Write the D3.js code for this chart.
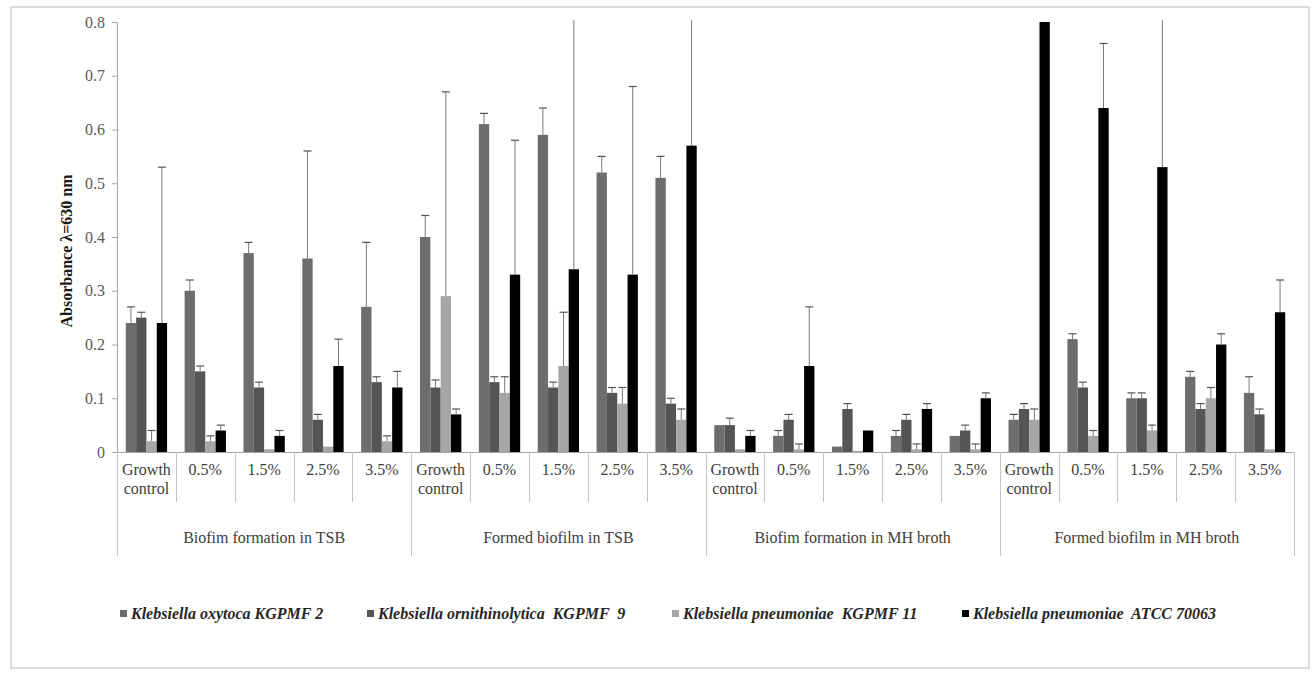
<!DOCTYPE html>
<html>
<head>
<meta charset="utf-8">
<script src="https://cdn.jsdelivr.net/npm/d3@7"></script>
<style>
  html, body { margin: 0; padding: 0; background: #fff; }
  svg { display: block; }
</style>
</head>
<body>
<svg id="chart" width="1314" height="674" font-family="'Liberation Serif', 'Times New Roman', serif"></svg>
<script>
// ---------------- DATA ----------------
const groups = ["Biofim formation in TSB", "Formed biofilm in TSB", "Biofim formation in MH broth", "Formed biofilm in MH broth"];
const categories = ["Growth control", "0.5%", "1.5%", "2.5%", "3.5%"];
const seriesNames = [
  "Klebsiella oxytoca KGPMF 2",
  "Klebsiella ornithinolytica  KGPMF  9",
  "Klebsiella pneumoniae  KGPMF 11",
  "Klebsiella pneumoniae  ATCC 70063"
];
const yTicks = [0, 0.1, 0.2, 0.3, 0.4, 0.5, 0.6, 0.7, 0.8];

// values, 20 per series (group by group, category by category)
const oxytoca      = [0.24, 0.30, 0.37, 0.36, 0.27,  0.40, 0.61, 0.59, 0.52, 0.51,  0.05, 0.03, 0.01, 0.03, 0.03,  0.06, 0.21, 0.10, 0.14, 0.11];
const ornithino    = [0.25, 0.15, 0.12, 0.06, 0.13,  0.12, 0.13, 0.12, 0.11, 0.09,  0.05, 0.06, 0.08, 0.06, 0.04,  0.08, 0.12, 0.10, 0.08, 0.07];
const pneumo11     = [0.02, 0.02, 0.005, 0.01, 0.02, 0.29, 0.11, 0.16, 0.09, 0.06,  0.005, 0.005, 0.002, 0.005, 0.005, 0.06, 0.03, 0.04, 0.10, 0.005];
const pneumoATCC   = [0.24, 0.04, 0.03, 0.16, 0.12,  0.07, 0.33, 0.34, 0.33, 0.57,  0.03, 0.16, 0.04, 0.08, 0.10,  0.80, 0.64, 0.53, 0.20, 0.26];

// upper error amounts
const oxytocaErr    = [0.03, 0.02, 0.02, 0.20, 0.12,  0.04, 0.02, 0.05, 0.03, 0.04,  0, 0.01, 0, 0.01, 0,  0.01, 0.01, 0.01, 0.01, 0.03];
const ornithinoErr  = [0.01, 0.01, 0.01, 0.01, 0.01,  0.014, 0.01, 0.01, 0.01, 0.01,  0.013, 0.01, 0.01, 0.01, 0.01,  0.01, 0.01, 0.01, 0.01, 0.01];
const pneumo11Err   = [0.02, 0.01, 0, 0, 0.01,  0.38, 0.03, 0.10, 0.03, 0.02,  0, 0.01, 0, 0.01, 0.01,  0.02, 0.01, 0.01, 0.02, 0];
const pneumoATCCErr = [0.29, 0.01, 0.01, 0.05, 0.03,  0.01, 0.25, 0.60, 0.35, 0.50,  0.01, 0.11, 0, 0.01, 0.01,  0, 0.12, 0.50, 0.02, 0.06];

const seriesValues = [oxytoca, ornithino, pneumo11, pneumoATCC];
const seriesErrors = [oxytocaErr, ornithinoErr, pneumo11Err, pneumoATCCErr];
const seriesColors = ["#6f6c6f", "#565556", "#a6a6a6", "#000000"];

// ---------------- LAYOUT ----------------
const FONT = "'Liberation Serif', 'Times New Roman', serif";
const svg = d3.select("#chart");
const plot = { left: 117, right: 1294, top: 22, bottom: 452 };

// outer frame
svg.append("rect")
  .attr("x", 11).attr("y", 7).attr("width", 1298).attr("height", 661)
  .attr("fill", "none").attr("stroke", "#d0d0d0").attr("stroke-width", 1.5);

const catIds = [];
groups.forEach((g, gi) => categories.forEach((c, ci) => catIds.push(gi + "|" + ci)));

const x0 = d3.scaleBand().domain(catIds).range([plot.left, plot.right]).paddingInner(0).paddingOuter(0);
const x1 = d3.scaleBand().domain(d3.range(seriesNames.length)).range([0, x0.bandwidth()]).paddingInner(0).paddingOuter(0.85);
const y = d3.scaleLinear().domain([0, 0.8]).range([plot.bottom, plot.top]);

// clip for error bars
svg.append("defs").append("clipPath").attr("id", "clip")
  .append("rect").attr("x", plot.left).attr("y", plot.top - 2)
  .attr("width", plot.right - plot.left).attr("height", plot.bottom - plot.top + 2);

// Y axis
const yAxis = d3.axisLeft(y).tickValues(yTicks).tickSize(5).tickPadding(7)
  .tickFormat(v => v === 0 ? "0" : d3.format(".1f")(v));
const gy = svg.append("g").attr("transform", `translate(${plot.left},0)`).call(yAxis)
  .attr("font-family", FONT).attr("font-size", 16);
gy.select(".domain").attr("stroke", "#a6a6a6");
gy.selectAll(".tick line").attr("stroke", "#a6a6a6");
gy.selectAll(".tick text").attr("fill", "#595959");

// Y title
svg.append("text")
  .attr("transform", `translate(72, ${(plot.top + plot.bottom) / 2 + 14}) rotate(-90)`)
  .attr("text-anchor", "middle").attr("font-family", FONT)
  .attr("font-size", 16).attr("font-weight", "bold").attr("fill", "#1a1a1a")
  .text("Absorbance λ=630 nm");

// bars
const barData = [];
catIds.forEach((id, i) => {
  seriesValues.forEach((vals, s) => {
    barData.push({ id, s, v: vals[i], e: seriesErrors[s][i] });
  });
});

svg.append("g").selectAll("rect").data(barData).join("rect")
  .attr("x", d => x0(d.id) + x1(d.s))
  .attr("y", d => y(d.v))
  .attr("width", x1.bandwidth())
  .attr("height", d => y(0) - y(d.v))
  .attr("fill", d => seriesColors[d.s]);

// error bars
const eg = svg.append("g").attr("clip-path", "url(#clip)");
const errData = barData.filter(d => d.e > 0);
eg.selectAll("line.v").data(errData).join("line").attr("class", "v")
  .attr("x1", d => x0(d.id) + x1(d.s) + x1.bandwidth() / 2)
  .attr("x2", d => x0(d.id) + x1(d.s) + x1.bandwidth() / 2)
  .attr("y1", d => y(d.v))
  .attr("y2", d => y(d.v + d.e))
  .attr("stroke", "#7a7a7a").attr("stroke-width", 1);
eg.selectAll("line.c").data(errData).join("line").attr("class", "c")
  .attr("x1", d => x0(d.id) + x1(d.s) + x1.bandwidth() / 2 - 4)
  .attr("x2", d => x0(d.id) + x1(d.s) + x1.bandwidth() / 2 + 4)
  .attr("y1", d => y(d.v + d.e))
  .attr("y2", d => y(d.v + d.e))
  .attr("stroke", "#555").attr("stroke-width", 1.2);

// X axis (category labels)
const xAxis = d3.axisBottom(x0).tickSize(0).tickPadding(12)
  .tickFormat(id => categories[+id.split("|")[1]]);
const gx = svg.append("g").attr("transform", `translate(0,${plot.bottom})`).call(xAxis)
  .attr("font-family", FONT).attr("font-size", 16);
gx.select(".domain").attr("stroke", "#a6a6a6");
gx.selectAll(".tick text")
  .attr("fill", "#404040")
  .each(function(id) {
    const label = categories[+id.split("|")[1]];
    const t = d3.select(this);
    const words = label.split(" ");
    if (words.length > 1) {
      t.text(null);
      words.forEach((w, i) => t.append("tspan").attr("x", 0).attr("dy", i === 0 ? "0.71em" : "1.15em").text(w));
    }
  });

// separators
const sepG = svg.append("g").attr("stroke", "#c4c4c4").attr("stroke-width", 1);
catIds.forEach((id) => {
  const ci = +id.split("|")[1];
  const xx = Math.round(x0(id)) + 0.5;
  sepG.append("line").attr("x1", xx).attr("x2", xx).attr("y1", plot.bottom)
    .attr("y2", ci === 0 ? 556 : 502);
});
sepG.append("line").attr("x1", plot.right + 0.5).attr("x2", plot.right + 0.5).attr("y1", plot.bottom).attr("y2", 556);

// group labels
groups.forEach((g, gi) => {
  const first = x0(gi + "|0");
  const last = x0(gi + "|" + (categories.length - 1)) + x0.bandwidth();
  svg.append("text")
    .attr("x", (first + last) / 2).attr("y", 543)
    .attr("text-anchor", "middle").attr("font-family", FONT)
    .attr("font-size", 16).attr("fill", "#404040")
    .text(g);
});

// legend
const legendX = [120, 367, 672, 962];
const lg = svg.append("g");
seriesNames.forEach((name, s) => {
  lg.append("rect").attr("x", legendX[s]).attr("y", 610).attr("width", 7).attr("height", 7)
    .attr("fill", seriesColors[s]);
  lg.append("text").attr("x", legendX[s] + 11).attr("y", 619)
    .attr("font-family", FONT).attr("font-size", 16)
    .attr("font-weight", "bold").attr("font-style", "italic")
    .style("white-space", "pre")
    .attr("fill", "#262626")
    .text(name);
});
</script>
</body>
</html>
